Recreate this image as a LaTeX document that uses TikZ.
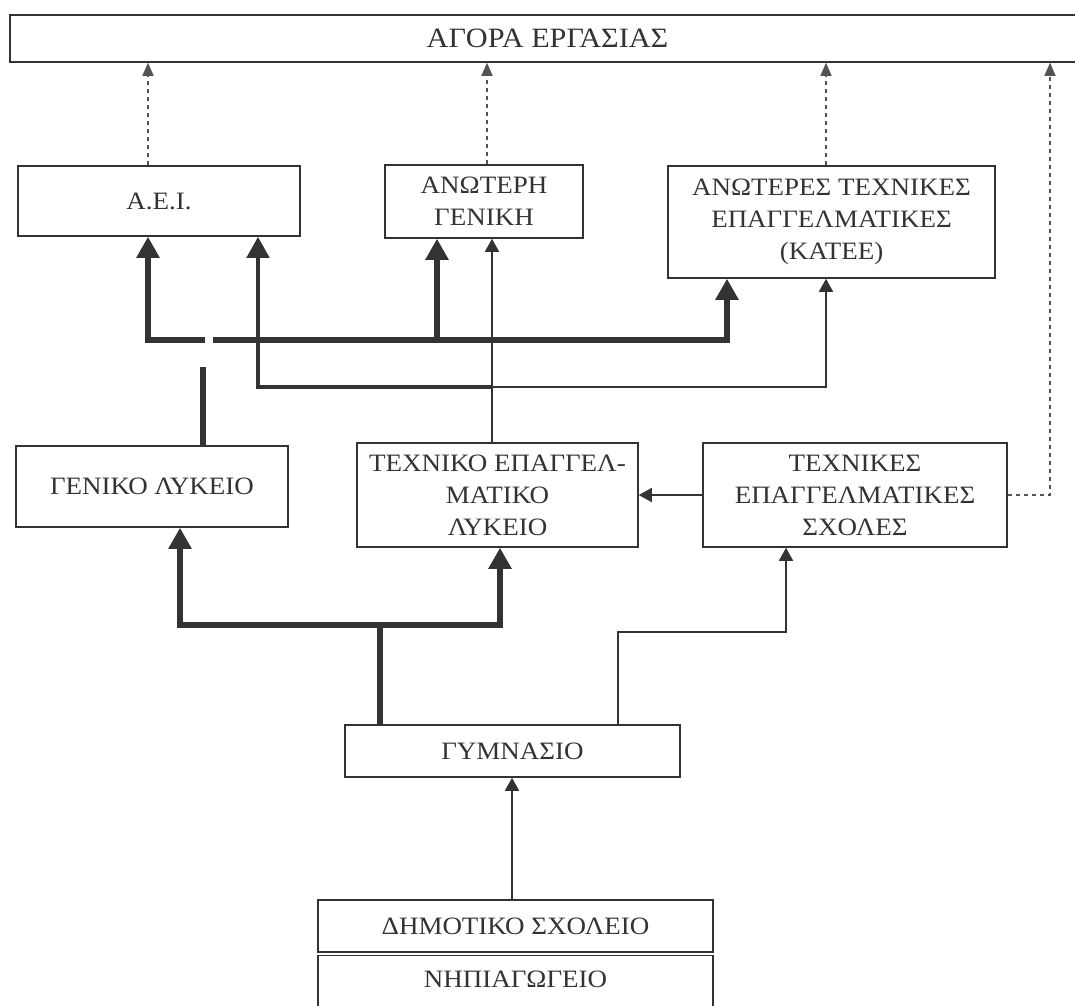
\documentclass[tikz,border=0pt]{standalone}
\usepackage{fontspec}
\setmainfont{Liberation Serif}[FakeStretch=1.08]
\usetikzlibrary{arrows.meta}
\definecolor{ink}{gray}{0.2}
\definecolor{dashink}{gray}{0.33}
\begin{document}
\begin{tikzpicture}[x=1pt,y=-1pt,
  box/.style={draw=ink, line width=1.5pt, text=ink, align=center, inner sep=0pt,
    font=\fontsize{25}{32}\selectfont},
  thickline/.style={draw=ink, line width=6.5pt, line join=miter},
  thickarrow/.style={thickline, -{Triangle[length=21pt,width=22pt]}},
  medarrow/.style={draw=ink, line width=4.5pt, line join=miter, -{Triangle[length=21pt,width=22pt]}},
  thinarrow/.style={draw=ink, line width=1.6pt, -{Triangle[length=13pt,width=14pt]}},
  dasharrow/.style={draw=dashink, line width=1.5pt, dash pattern=on 4pt off 4pt, -{Triangle[length=13pt,width=11pt]}}
]
\useasboundingbox (0,0) rectangle (1075,1005);

% boxes
\node[box, minimum width=1075pt, minimum height=47pt, font=\fontsize{28}{32}\selectfont] (agora) at (547.5,38.5) {ΑΓΟΡΑ ΕΡΓΑΣΙΑΣ};
\node[box, minimum width=282pt, minimum height=70pt] (aei) at (159,201) {Α.Ε.Ι.};
\node[box, minimum width=198pt, minimum height=73pt] (anot) at (484,201.5) {ΑΝΩΤΕΡΗ\\ΓΕΝΙΚΗ};
\node[box, minimum width=327pt, minimum height=112pt] (katee) at (831.5,222) {ΑΝΩΤΕΡΕΣ ΤΕΧΝΙΚΕΣ\\ΕΠΑΓΓΕΛΜΑΤΙΚΕΣ\\(ΚΑΤΕΕ)};
\node[box, minimum width=272pt, minimum height=81pt] (gl) at (152,486.5) {ΓΕΝΙΚΟ ΛΥΚΕΙΟ};
\node[box, minimum width=281pt, minimum height=104pt] (tel) at (497.5,495) {ΤΕΧΝΙΚΟ ΕΠΑΓΓΕΛ-\\ΜΑΤΙΚΟ\\ΛΥΚΕΙΟ};
\node[box, minimum width=304pt, minimum height=104pt] (tes) at (855,495) {ΤΕΧΝΙΚΕΣ\\ΕΠΑΓΓΕΛΜΑΤΙΚΕΣ\\ΣΧΟΛΕΣ};
\node[box, minimum width=335pt, minimum height=52pt] (gym) at (512.5,751) {ΓΥΜΝΑΣΙΟ};
\node[box, minimum width=395pt, minimum height=52pt] (dim) at (515.5,926) {ΔΗΜΟΤΙΚΟ ΣΧΟΛΕΙΟ};
\node[box, draw=none] (nip) at (515.5,979) {ΝΗΠΙΑΓΩΓΕΙΟ};
\draw[ink, line width=1.5pt] (318,1010) -- (318,955.5) -- (713,955.5) -- (713,1010);

% x positions and junctions
\coordinate (x148) at (148,0);
\coordinate (x258) at (258,0);
\coordinate (x487) at (487,0);
\coordinate (x727) at (727,0);
\coordinate (x826) at (826,0);
\coordinate (x1050) at (1050,0);
\coordinate (x180) at (180,0);
\coordinate (x500) at (500,0);
\coordinate (x786) at (786,0);
\coordinate (x512) at (512,0);
\coordinate (jA) at (205,340);
\coordinate (jB) at (213,340);
\coordinate (jAn) at (437,340);
\coordinate (glTop) at (203,367);
\coordinate (jT) at (492,387);
\coordinate (jG) at (380,625);
\coordinate (jS) at (618,632);

% dashed to labour market
\draw[dasharrow] (aei.north -| x148) -- (agora.south -| x148);
\draw[dasharrow] (anot.north -| x487) -- (agora.south -| x487);
\draw[dasharrow] (katee.north -| x826) -- (agora.south -| x826);
\draw[dasharrow] (tes.east) -| (agora.south -| x1050);

% from general lyceum (thick)
\draw[thickline] (gl.north -| glTop) -- (glTop);
\draw[thickarrow] (jA) -| (aei.south -| x148);
\draw[thickarrow] (jB) -| (katee.south -| x727);
\draw[thickarrow] (jAn) -- (anot.south -| jAn);

% from technical lyceum
\draw[thinarrow] (tel.north -| jT) -- (anot.south -| jT);
\draw[medarrow] (jT) -| (aei.south -| x258);
\draw[thinarrow] (jT) -| (katee.south -| x826);

% technical schools to technical lyceum
\draw[thinarrow] (tes.west) -- (tel.east);

% from gymnasium
\draw[thickline] (gym.north -| jG) -- (jG);
\draw[thickarrow] (jG) -| (gl.south -| x180);
\draw[thickarrow] (jG) -| (tel.south -| x500);
\draw[thinarrow] (gym.north -| jS) -- (jS) -| (tes.south -| x786);

% primary to gymnasium
\draw[thinarrow] (dim.north -| x512) -- (gym.south -| x512);
\end{tikzpicture}
\end{document}
